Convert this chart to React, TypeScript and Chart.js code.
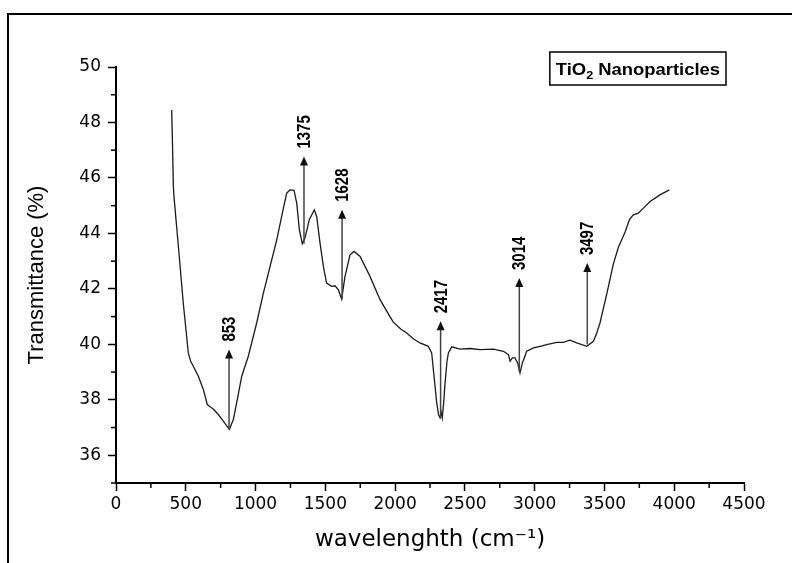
import React, { useEffect, useRef } from 'react';
import { Chart, registerables } from 'chart.js';

Chart.register(...registerables);

// ---- data ----
const wavenumbers = [
  399, 405, 411, 416, 447, 482, 518, 535, 554, 590, 626, 654, 674, 697, 733, 769, 812, 841, 869, 901,
  948, 1008, 1056, 1104, 1152, 1187, 1223, 1247, 1276, 1295, 1314, 1335, 1354, 1385, 1421, 1438, 1462,
  1486, 1509, 1545, 1569, 1593, 1617, 1641, 1677, 1706, 1749, 1820, 1892, 1963, 1987, 2040, 2083, 2130,
  2178, 2238, 2262, 2279, 2298, 2312, 2322, 2330, 2338, 2348, 2358, 2372, 2382, 2406, 2465, 2537, 2608,
  2704, 2776, 2812, 2824, 2840, 2859, 2878, 2895, 2912, 2943, 2991, 3040, 3086, 3158, 3205, 3253, 3301,
  3373, 3421, 3445, 3468, 3516, 3564, 3600, 3648, 3679, 3707, 3743, 3779, 3827, 3898, 3965,
];
const transmittance = [
  48.45, 47.2, 45.69, 45.3, 43.53, 41.49, 39.69, 39.39, 39.21, 38.85, 38.37, 37.83, 37.75, 37.67, 37.47,
  37.23, 36.93, 37.29, 38.01, 38.85, 39.57, 40.77, 41.85, 42.81, 43.77, 44.61, 45.45, 45.57, 45.55, 45.09,
  44.13, 43.63, 43.83, 44.49, 44.85, 44.61, 43.65, 42.81, 42.21, 42.09, 42.11, 41.97, 41.63, 42.45, 43.23,
  43.35, 43.17, 42.45, 41.61, 41.0, 40.8, 40.55, 40.41, 40.2, 40.05, 39.93, 39.69, 38.85, 37.89, 37.45,
  37.35, 37.55, 37.35, 37.9, 38.61, 39.4, 39.69, 39.91, 39.83, 39.85, 39.81, 39.83, 39.75, 39.63, 39.39,
  39.51, 39.51, 39.33, 38.97, 39.33, 39.75, 39.87, 39.93, 39.99, 40.07, 40.07, 40.15, 40.05, 39.93, 40.11,
  40.41, 40.77, 41.8, 42.9, 43.5, 44.05, 44.5, 44.67, 44.73, 44.91, 45.15, 45.39, 45.57,
];

const xTickValues = [0, 500, 1000, 1500, 2000, 2500, 3000, 3500, 4000, 4500];
const xMinorTickValues = [250, 750, 1250, 1750, 2250, 2750, 3250, 3750, 4250];
const yTickValues = [36, 38, 40, 42, 44, 46, 48, 50];
const yMinorTickValues = [35, 37, 39, 41, 43, 45, 47, 49];

const peakLabels = ['853', '1375', '1628', '2417', '3014', '3497'];
const peakX = [810, 1347, 1620, 2326, 2890, 3377];
const peakBaseY = [36.93, 43.63, 41.63, 37.35, 39.0, 40.0];
const peakTipY = [39.81, 46.77, 44.85, 40.83, 42.39, 42.93];

const seriesMain = 'TiO';
const seriesSub = '2';
const seriesRest = ' Nanoparticles';
const xTitle = 'wavelenghth (cm⁻¹)';
const yTitle = 'Transmittance (%)';

const extrasPlugin = {
  id: 'ftirExtras',
  afterDraw(chart: any) {
    const { ctx, chartArea, scales } = chart;
    const x = scales.x;
    const y = scales.y;
    ctx.save();
    // minor ticks
    ctx.strokeStyle = '#000';
    ctx.lineWidth = 1.5;
    xMinorTickValues.forEach((v) => {
      const px = x.getPixelForValue(v);
      ctx.beginPath();
      ctx.moveTo(px, chartArea.bottom);
      ctx.lineTo(px, chartArea.bottom + 5);
      ctx.stroke();
    });
    yMinorTickValues.forEach((v) => {
      const py = y.getPixelForValue(v);
      ctx.beginPath();
      ctx.moveTo(chartArea.left, py);
      ctx.lineTo(chartArea.left - 5, py);
      ctx.stroke();
    });

    // peak arrows
    peakLabels.forEach((label, i) => {
      const px = x.getPixelForValue(peakX[i]);
      const pb = y.getPixelForValue(peakBaseY[i]);
      const pt = y.getPixelForValue(peakTipY[i]);
      ctx.strokeStyle = '#444';
      ctx.lineWidth = 1.5;
      ctx.beginPath();
      ctx.moveTo(px, pb);
      ctx.lineTo(px, pt + 6);
      ctx.stroke();
      ctx.fillStyle = '#111';
      ctx.beginPath();
      ctx.moveTo(px, pt);
      ctx.lineTo(px - 4, pt + 9);
      ctx.lineTo(px + 4, pt + 9);
      ctx.closePath();
      ctx.fill();
      ctx.save();
      ctx.translate(px, pt - 8);
      ctx.rotate(-Math.PI / 2);
      ctx.scale(1, 1.18);
      ctx.font = 'bold 15px "Liberation Sans", Arial, sans-serif';
      ctx.textAlign = 'left';
      ctx.textBaseline = 'middle';
      ctx.fillStyle = '#000';
      ctx.fillText(label, 0, 1);
      ctx.restore();
    });

    // legend box
    const stretch = 1.15;
    const big = 'bold 16px "Liberation Sans", Arial, sans-serif';
    const small = 'bold 11px "Liberation Sans", Arial, sans-serif';
    ctx.font = big;
    const w1 = ctx.measureText(seriesMain).width;
    const w3 = ctx.measureText(seriesRest).width;
    ctx.font = small;
    const w2 = ctx.measureText(seriesSub).width;
    const textW = (w1 + w2 + w3) * stretch;
    const boxW = textW + 12;
    const boxH = 33;
    const boxRight = chartArea.right - 18;
    const boxTop = chartArea.top - 15;
    const boxLeft = boxRight - boxW;
    ctx.fillStyle = '#fff';
    ctx.fillRect(boxLeft, boxTop, boxW, boxH);
    ctx.strokeStyle = '#000';
    ctx.lineWidth = 1.5;
    ctx.strokeRect(boxLeft, boxTop, boxW, boxH);
    ctx.save();
    ctx.translate(boxLeft + 6, boxTop + 23);
    ctx.scale(stretch, 1);
    ctx.fillStyle = '#000';
    ctx.textBaseline = 'alphabetic';
    ctx.textAlign = 'left';
    ctx.font = big;
    ctx.fillText(seriesMain, 0, 0);
    ctx.font = small;
    ctx.fillText(seriesSub, w1, 4);
    ctx.font = big;
    ctx.fillText(seriesRest, w1 + w2, 0);
    ctx.restore();

    ctx.restore();
  },
};

export default function App() {
  const canvasRef = useRef<HTMLCanvasElement | null>(null);

  useEffect(() => {
    if (!canvasRef.current) return;
    const points = wavenumbers.map((w, i) => ({ x: w, y: transmittance[i] }));
    const chart = new Chart(canvasRef.current, {
      type: 'line',
      data: {
        datasets: [
          {
            label: seriesMain + seriesSub + seriesRest,
            data: points,
            borderColor: '#1a1a1a',
            borderWidth: 1.3,
            pointRadius: 0,
            tension: 0,
            fill: false,
          },
        ],
      },
      options: {
        animation: false,
        responsive: true,
        maintainAspectRatio: false,
        layout: { padding: { left: 0, top: 67, right: 48, bottom: 0 } },
        plugins: { legend: { display: false }, tooltip: { enabled: false } },
        scales: {
          x: {
            type: 'linear',
            min: 0,
            max: 4500,
            afterBuildTicks: (s: any) => {
              s.ticks = xTickValues.map((v) => ({ value: v }));
            },
            afterFit: (s: any) => {
              s.height = 80;
            },
            border: { display: true, color: '#000', width: 2 },
            grid: { drawOnChartArea: false, drawTicks: true, tickLength: 8, tickColor: '#000', tickWidth: 1.5 },
            ticks: {
              color: '#000',
              font: { family: '"DejaVu Sans"', size: 17 },
              padding: 3,
              maxRotation: 0,
              autoSkip: false,
              callback: (v: any) => String(v),
            },
            title: {
              display: true,
              text: xTitle,
              color: '#000',
              font: { family: '"DejaVu Sans"', size: 23 },
              padding: { top: 0, bottom: 9 },
            },
          },
          y: {
            type: 'linear',
            min: 35,
            max: 50,
            afterBuildTicks: (s: any) => {
              s.ticks = yTickValues.map((v) => ({ value: v }));
            },
            afterFit: (s: any) => {
              s.width = 116;
            },
            border: { display: true, color: '#000', width: 2 },
            grid: { drawOnChartArea: false, drawTicks: true, tickLength: 8, tickColor: '#000', tickWidth: 1.5 },
            ticks: {
              color: '#000',
              font: { family: '"DejaVu Sans"', size: 17 },
              padding: 7,
              autoSkip: false,
              callback: (v: any) => String(v),
            },
            title: {
              display: true,
              text: yTitle,
              color: '#000',
              font: { family: '"Liberation Sans", Arial', size: 22 },
              padding: { top: 24, bottom: 0 },
            },
          },
        },
      },
      plugins: [extrasPlugin],
    });
    return () => chart.destroy();
  }, []);

  return (
    <div
      style={{
        position: 'fixed',
        left: 0,
        top: 0,
        width: 792,
        height: 563,
        overflow: 'hidden',
        background: '#fff',
      }}
    >
      <div
        style={{
          position: 'absolute',
          left: 7,
          top: 13,
          width: 800,
          height: 600,
          borderTop: '2px solid #000',
          borderLeft: '2px solid #000',
        }}
      />
      <div style={{ position: 'absolute', left: 0, top: 0, width: 792, height: 563 }}>
        <canvas ref={canvasRef} />
      </div>
    </div>
  );
}
